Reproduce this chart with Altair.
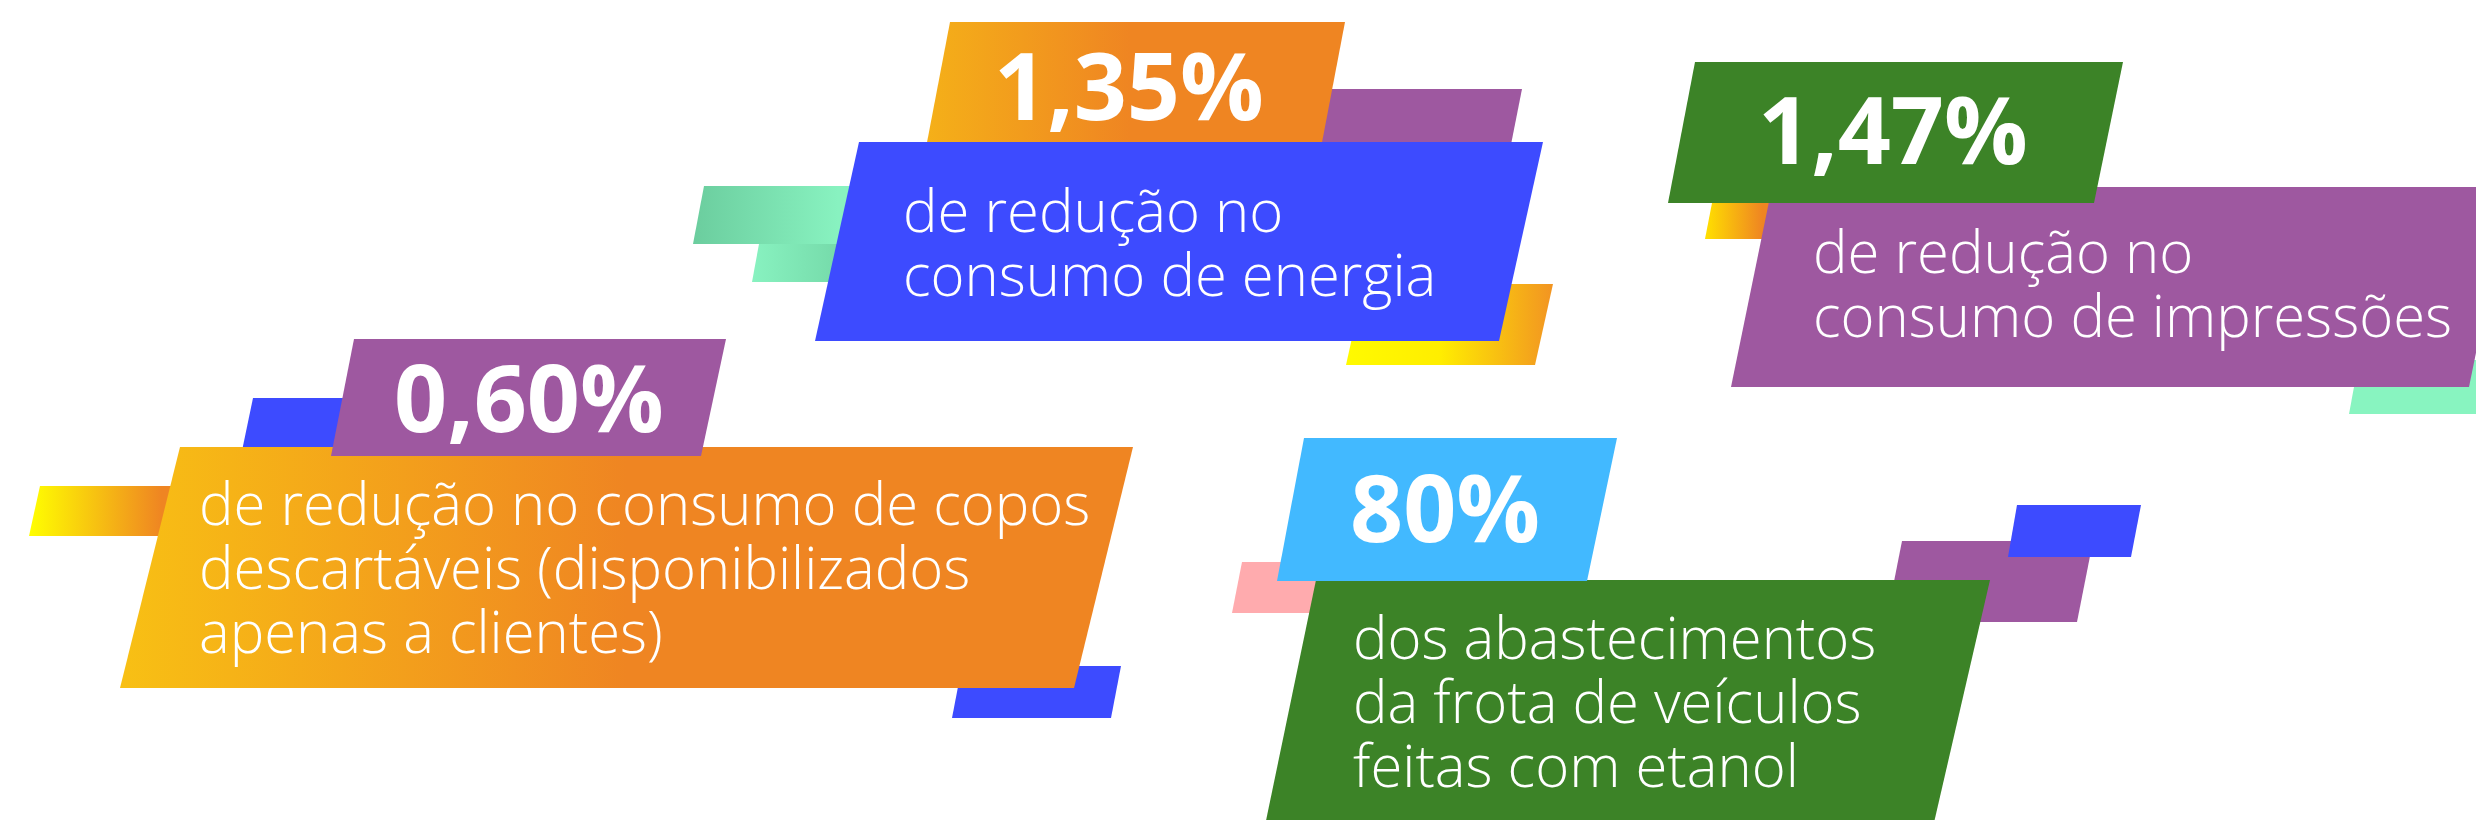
import altair as alt
import pandas as pd

W, H = 2468, 812

# ---- decorative parallelograms (bottom -> top drawing order), in page pixels ----
shape_names = ["teal1", "teal2", "purple_a", "orange_a", "yellow_a", "blue_a",
               "yellow_b", "mint", "purple_b", "green_a",
               "blue_c", "yellow_c", "blue_d", "orange_b", "purple_c",
               "pink", "purple_d", "blue_e", "green_b", "lightblue"]
y_top = [186, 244, 89, 22, 284, 142, 203, 360, 187, 62, 398, 486, 666, 447, 339, 562, 541, 505, 580, 438]
y_bot = [244, 282, 200, 200, 365, 341, 239, 414, 387, 203, 470, 536, 718, 688, 456, 613, 622, 557, 840, 581]
x_tl = [704, 759, 1200, 950, 1364, 859, 1712, 2359, 1772, 1695, 253, 40, 962, 180, 354, 1242, 1902, 2017, 1316, 1304]
x_tr = [900, 900, 1522, 1345, 1553, 1543, 1787, 2520, 2510, 2123, 500, 250, 1121, 1133, 726, 1400, 2093, 2141, 1990, 1617]
x_bl = [693, 752, 1178, 916, 1346, 815, 1705, 2349, 1731, 1668, 238, 29, 952, 120, 331, 1232, 1886, 2008, 1262, 1277]
x_br = [889, 893, 1500, 1311, 1535, 1499, 1780, 2510, 2469, 2094, 486, 240, 1111, 1074, 701, 1390, 2077, 2131, 1930, 1587]

BLUE, PURPLE, GREEN = "#3d4bff", "#9e58a0", "#3c8327"
fills = [
    [(0, "#6bcd9e"), (0.7, "#88f2c0"), (1, "#88f2c0")],
    [(0, "#88f2c0"), (0.7, "#72d6a6"), (1, "#72d6a6")],
    PURPLE,
    [(0, "#f5b218"), (0.5, "#ef8522"), (1, "#ef8522")],
    [(0, "#fffa00"), (0.45, "#ffee00"), (1, "#f29422")],
    BLUE,
    [(0, "#ffe000"), (0.7, "#ef8522"), (1, "#ef8522")],
    "#88f4c0",
    PURPLE,
    GREEN,
    BLUE,
    [(0, "#ffff00"), (0.6, "#ef8522"), (1, "#ef8522")],
    BLUE,
    [(0, "#f8c014"), (0.5, "#ef8522"), (1, "#ef8522")],
    PURPLE,
    "#ffabae",
    PURPLE,
    BLUE,
    GREEN,
    "#42b9ff",
]

# ---- texts ----
big_labels = ["1,35%", "1,47%", "0,60%", "80%"]
big_x = [994, 1758, 394, 1350]
big_y = [120, 164, 432, 542]

body_blocks = [
    ["de redução no", "consumo de energia"],
    ["de redução no", "consumo de impressões"],
    ["de redução no consumo de copos", "descartáveis (disponibilizados", "apenas a clientes)"],
    ["dos abastecimentos", "da frota de veículos", "feitas com etanol"],
]
body_x = [903, 1813, 199, 1353]
body_y = [232, 273, 525, 659]

xs = alt.Scale(domain=[8, 8 + W], nice=False, zero=False)
ys = alt.Scale(domain=[8, 8 + H], nice=False, zero=False, reverse=True)

layers = []
for i, name in enumerate(shape_names):
    df = pd.DataFrame({
        "px": [x_bl[i], x_tl[i], x_br[i], x_tr[i]],
        "ptop": [y_bot[i], y_top[i], y_top[i], y_top[i]],
        "pbot": [y_bot[i], y_bot[i], y_bot[i], y_top[i]],
    })
    f = fills[i]
    if isinstance(f, str):
        fill = f
    else:
        fill = {"gradient": "linear", "x1": 0, "x2": 1, "y1": 0, "y2": 0,
                "stops": [{"offset": o, "color": c} for o, c in f]}
    layer = alt.Chart(df).mark_area(fill=fill).encode(
        x=alt.X("px:Q", scale=xs, axis=None),
        y=alt.Y("ptop:Q", scale=ys, axis=None, stack=None),
        y2=alt.Y2("pbot"),
    )
    layers.append(layer)

big_df = pd.DataFrame({"t": big_labels, "x": big_x, "y": big_y})
big = alt.Chart(big_df).mark_text(
    align="left", baseline="alphabetic", font="Open Sans", fontWeight="bold",
    fontSize=93, color="white"
).encode(x=alt.X("x:Q", scale=xs, axis=None), y=alt.Y("y:Q", scale=ys, axis=None), text="t:N")

body_df = pd.DataFrame({"t": ["\n".join(b) for b in body_blocks], "x": body_x, "y": body_y})
body = alt.Chart(body_df).mark_text(
    align="left", baseline="alphabetic", font="Open Sans", fontWeight=300,
    fontSize=58, color="white", lineBreak="\n", lineHeight=64
).encode(x=alt.X("x:Q", scale=xs, axis=None), y=alt.Y("y:Q", scale=ys, axis=None), text="t:N")

chart = alt.layer(*layers, big, body).properties(
    width=W, height=H, padding=0, background="white",
    autosize=alt.AutoSizeParams(type="none"),
).configure_view(stroke=None)

chart.save("out.html", embed_options={"renderer": "svg", "actions": False})
